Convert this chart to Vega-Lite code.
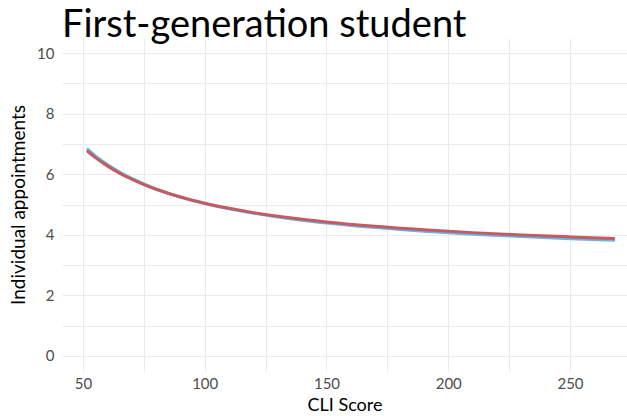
{
  "$schema": "https://vega.github.io/schema/vega-lite/v6.json",
  "width": 565,
  "height": 333,
  "autosize": {"type": "none"},
  "padding": {"left": 62, "top": 38, "right": 0, "bottom": 45},
  "background": "white",
  "title": {
    "text": "First-generation student",
    "anchor": "start",
    "frame": "group",
    "font": "Lato",
    "fontSize": 38,
    "fontWeight": "normal",
    "color": "#000000",
    "baseline": "alphabetic",
    "offset": 5,
    "dy": 42
  },
  "config": {
    "view": {"stroke": null},
    "axis": {
      "labelFont": "Lato",
      "titleFont": "Lato",
      "labelColor": "#4D4D4D",
      "titleColor": "#000000",
      "labelFontSize": 15,
      "titleFontSize": 18,
      "titleFontWeight": "normal",
      "domain": false,
      "ticks": false,
      "gridColor": "#EBEBEB",
      "gridWidth": 1
    }
  },
  "data": {
    "values": [
      {"x": 52, "y": 6.819, "s": "A"},
      {"x": 55, "y": 6.616, "s": "A"},
      {"x": 60, "y": 6.323, "s": "A"},
      {"x": 65, "y": 6.075, "s": "A"},
      {"x": 70, "y": 5.862, "s": "A"},
      {"x": 75, "y": 5.678, "s": "A"},
      {"x": 80, "y": 5.517, "s": "A"},
      {"x": 90, "y": 5.248, "s": "A"},
      {"x": 100, "y": 5.033, "s": "A"},
      {"x": 110, "y": 4.857, "s": "A"},
      {"x": 120, "y": 4.711, "s": "A"},
      {"x": 135, "y": 4.531, "s": "A"},
      {"x": 150, "y": 4.388, "s": "A"},
      {"x": 170, "y": 4.236, "s": "A"},
      {"x": 190, "y": 4.116, "s": "A"},
      {"x": 210, "y": 4.019, "s": "A"},
      {"x": 230, "y": 3.939, "s": "A"},
      {"x": 250, "y": 3.872, "s": "A"},
      {"x": 268, "y": 3.820, "s": "A"},
      {"x": 52, "y": 6.751, "s": "B"},
      {"x": 55, "y": 6.556, "s": "B"},
      {"x": 60, "y": 6.276, "s": "B"},
      {"x": 65, "y": 6.038, "s": "B"},
      {"x": 70, "y": 5.835, "s": "B"},
      {"x": 75, "y": 5.658, "s": "B"},
      {"x": 80, "y": 5.504, "s": "B"},
      {"x": 90, "y": 5.247, "s": "B"},
      {"x": 100, "y": 5.041, "s": "B"},
      {"x": 110, "y": 4.873, "s": "B"},
      {"x": 120, "y": 4.732, "s": "B"},
      {"x": 135, "y": 4.561, "s": "B"},
      {"x": 150, "y": 4.424, "s": "B"},
      {"x": 170, "y": 4.278, "s": "B"},
      {"x": 190, "y": 4.164, "s": "B"},
      {"x": 210, "y": 4.071, "s": "B"},
      {"x": 230, "y": 3.994, "s": "B"},
      {"x": 250, "y": 3.930, "s": "B"},
      {"x": 268, "y": 3.880, "s": "B"}
    ]
  },
  "mark": {"type": "line", "strokeWidth": 3, "interpolate": "monotone", "strokeCap": "round"},
  "encoding": {
    "x": {
      "field": "x",
      "type": "quantitative",
      "scale": {"domain": [41.4, 273.4], "nice": false, "zero": false},
      "axis": {
        "title": "CLI Score",
        "values": [50, 75, 100, 125, 150, 175, 200, 225, 250, 275],
        "labelExpr": "datum.value % 50 == 0 ? datum.label : ''",
        "labelPadding": 5,
        "titlePadding": 5
      }
    },
    "y": {
      "field": "y",
      "type": "quantitative",
      "scale": {"domain": [-0.5, 10.5], "nice": false},
      "axis": {
        "title": "Individual appointments",
        "titleFontSize": 19,
        "values": [0, 1, 2, 3, 4, 5, 6, 7, 8, 9, 10],
        "labelExpr": "datum.value % 2 == 0 ? datum.label : ''",
        "labelPadding": 8,
        "titlePadding": 8
      }
    },
    "color": {
      "field": "s",
      "type": "nominal",
      "scale": {"domain": ["A", "B"], "range": ["#67B7E1", "#C45A62"]},
      "legend": null
    }
  }
}
